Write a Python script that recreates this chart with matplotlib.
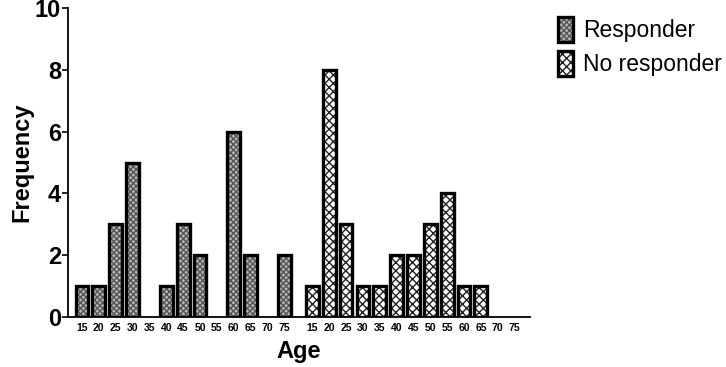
import matplotlib.pyplot as plt
import numpy as np
from matplotlib.legend_handler import HandlerTuple
from matplotlib.patches import Rectangle

plt.rcParams['font.family'] = ['Liberation Sans', 'DejaVu Sans']
plt.rcParams['hatch.linewidth'] = 1.0

# Data
ages = ['15', '20', '25', '30', '35', '40', '45', '50', '55', '60', '65', '70', '75']
responder = [1, 1, 3, 5, 0, 1, 3, 2, 0, 6, 2, 0, 2]
no_responder = [1, 8, 3, 1, 1, 2, 2, 3, 4, 1, 1, 0, 0]

group_gap = 13.67
x_resp = np.arange(len(ages))
x_nores = x_resp + group_gap
width = 0.76

RESP_FILL = dict(facecolor='#b8b8b8', edgecolor='#555555', hatch='xxxxxx')
NORES_FILL = dict(facecolor='white', edgecolor='#222222', hatch='xxxx')

fig = plt.figure(figsize=(7.26, 3.67), dpi=100)
ax = fig.add_axes([0.0937, 0.136, 0.636, 0.842])

# hatched fills (hatch colour follows edgecolor, so outlines drawn separately)
ax.bar(x_resp, responder, width, linewidth=0, **RESP_FILL)
ax.bar(x_nores, no_responder, width, linewidth=0, **NORES_FILL)
for xs, vals in [(x_resp, responder), (x_nores, no_responder)]:
    xs_nz = [x for x, v in zip(xs, vals) if v > 0]
    v_nz = [v for v in vals if v > 0]
    ax.bar(xs_nz, v_nz, width, facecolor='none', edgecolor='black', linewidth=2.4)

ax.set_xlim(-0.83, x_nores[-1] + 0.9)
ax.set_ylim(0, 10)
ax.set_yticks(range(0, 11, 2))
ax.set_xticks(list(x_resp) + list(x_nores))
ax.set_xticklabels(ages + ages, fontsize=7.5, fontweight='bold')
ax.tick_params(axis='x', length=0, pad=4)
ax.tick_params(axis='y', length=4, width=1.2, labelsize=17, pad=1)
for lab in ax.get_yticklabels():
    lab.set_fontweight('bold')

for s in ['top', 'right']:
    ax.spines[s].set_visible(False)
for s in ['left', 'bottom']:
    ax.spines[s].set_linewidth(1.3)

ax.set_xlabel('Age', fontsize=17, fontweight='bold', labelpad=5)
ax.set_ylabel('Frequency', fontsize=17, fontweight='bold', labelpad=1)

# legend
def handle(fill_kw):
    fill = Rectangle((0, 0), 1, 1, linewidth=0, **fill_kw)
    edge = Rectangle((0, 0), 1, 1, facecolor='none', edgecolor='black', linewidth=2.4)
    return (fill, edge)

fig.legend([handle(RESP_FILL), handle(NORES_FILL)],
           ['Responder', 'No responder'],
           loc='upper left', bbox_to_anchor=(0.74, 1.01), frameon=False,
           fontsize=16.5, handlelength=0.65, handleheight=1.3, handletextpad=0.45,
           labelspacing=0.4,
           handler_map={tuple: HandlerTuple(ndivide=1, pad=0)})

fig.savefig('out.png', dpi=100)
